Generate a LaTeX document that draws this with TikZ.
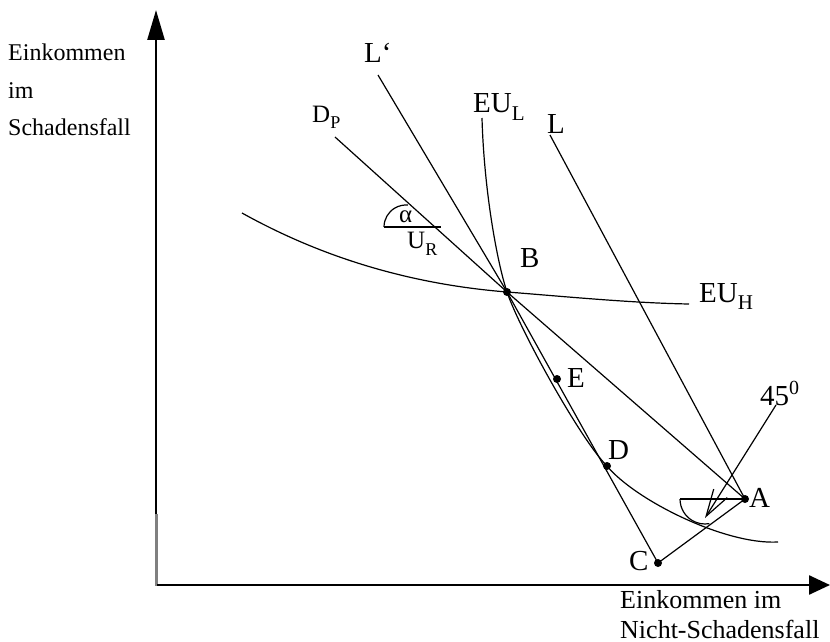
\documentclass[tikz,border=0pt]{standalone}
\usepackage{fontspec}
\setmainfont{Liberation Serif}
\usetikzlibrary{arrows.meta}
\newcommand\lowsub[3]{\raisebox{-#1}{\fontsize{#2}{#2}\selectfont #3}}
\begin{document}
\begin{tikzpicture}[x=1pt,y=-1pt,
  thinline/.style={line width=1.2pt},
  axisline/.style={line width=2.5pt},
  ptdot/.style={circle,fill,inner sep=0pt,minimum size=8pt},
  lbl/.style={inner sep=0pt,anchor=base west,font=\fontsize{29}{29}\selectfont},
  axlbl/.style={inner sep=0pt,anchor=base west,font=\fontsize{24}{24}\selectfont},
  smlbl/.style={inner sep=0pt,anchor=base west,font=\fontsize{25}{25}\selectfont}]
\useasboundingbox (0,0) rectangle (830,642);
% key points
\coordinate (B) at (507,292);
\coordinate (A) at (745,499);
\coordinate (C) at (658,563);
\coordinate (D) at (607,466);
\coordinate (E) at (557,379);
\coordinate (Lp) at (378,75);
\coordinate (Ls) at (550,135);
\coordinate (Dps) at (335,137);
\coordinate (fortyS) at (776,405);
\coordinate (fortyT) at (705,518);
\coordinate (hA) at (680,499);
\coordinate (aL) at (384,227);
\coordinate (aR) at (441,227);
\coordinate (EULs) at (482,118);
\coordinate (EULe) at (778,542);
\coordinate (EUHs) at (242,213);
\coordinate (EUHe) at (689,304);
% axes
\coordinate (ygray) at (156,514);
\coordinate (ytop) at (156,10);
\coordinate (orig) at (156,586);
\coordinate (xorig) at (157,585);
\coordinate (xend) at (830,585);
\draw[axisline,-{Triangle[length=30pt,width=17pt]}] (ygray) -- (ytop);
\draw[line width=3pt,gray] (ygray) -- (orig);
\draw[axisline,-{Triangle[length=21pt,width=19pt]}] (xorig) -- (xend);
% axis labels
\node[axlbl] (yl1) at (8,61) {Einkommen};
\node[axlbl] (yl2) at (8,98) {im};
\node[axlbl] (yl3) at (8,135) {Schadensfall};
\node[axlbl,font=\fontsize{26}{26}\selectfont] (xl1) at (620,608) {Einkommen im};
\node[axlbl,font=\fontsize{26}{26}\selectfont] (xl2) at (620,638) {Nicht-Schadensfall};
% curves
\draw[thinline] (EULs) .. controls (484,190) and (497,262) .. (B)
  .. controls (519,328) and (580,439) .. (D)
  .. controls (635,500) and (725,545) .. (EULe);
\draw[thinline] (EUHs) .. controls (330,262) and (420,285) .. (B)
  .. controls (559,296) and (630,303) .. (EUHe);
% lines
\draw[thinline] (Lp) -- (B);
\draw[thinline] (B) -- (C);
\draw[thinline] (Dps) -- (B);
\draw[thinline] (B) -- (A);
\draw[thinline] (Ls) -- (A);
\draw[thinline] (C) -- (A);
\draw[thinline,-{Straight Barb[length=27pt,width=16pt]}] (fortyS) -- (fortyT);
\draw[line width=2pt] (hA) -- (A);
\draw[thinline] (hA) arc[start angle=180,end angle=80,radius=25];
% alpha angle
\draw[line width=2pt] (aL) -- (aR);
\draw[thinline] (aL) arc[start angle=180,end angle=275,radius=22];
% dots
\node[ptdot] (Bd) at (B) {};
\node[ptdot] (Ad) at (A) {};
\node[ptdot] (Cd) at (C) {};
\node[ptdot] (Dd) at (D) {};
\node[ptdot] (Ed) at (E) {};
% labels
\node[lbl] (lB) at (520,267) {B};
\node[lbl] (lE) at (567,387) {E};
\node[lbl] (lD) at (608,459) {D};
\node[lbl] (lA) at (749,507) {A};
\node[lbl] (lC) at (629,570) {C};
\node[lbl] (lLp) at (364,63) {L‘};
\node[lbl] (lL) at (547,133) {L};
\node[lbl] (lEUL) at (473,112) {EU\lowsub{8pt}{21}{L}};
\node[lbl] (lEUH) at (699,302) {EU\lowsub{7pt}{21}{H}};
\node[lbl] (l45) at (760,405) {45\raisebox{11pt}{\fontsize{20}{20}\selectfont 0}};
\node[smlbl] (lDP) at (312,122) {D\lowsub{6pt}{18}{P}};
\node[smlbl] (lUR) at (407,248) {U\lowsub{7pt}{18}{R}};
\node[smlbl] (lal) at (399,222) {α};
\end{tikzpicture}
\end{document}
